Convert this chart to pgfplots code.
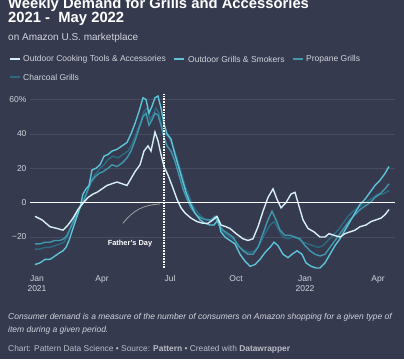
\documentclass[border=0pt]{standalone}
\usepackage{fontspec}
\setmainfont{Liberation Sans}
\usepackage{pgfplots}
\pgfplotsset{compat=1.18}
\definecolor{bg}{HTML}{363A4F}
\definecolor{cwhite}{HTML}{D6EEF5}
\definecolor{ccyan}{HTML}{5CC3D8}
\definecolor{cmid}{HTML}{3F98AE}
\definecolor{cdark}{HTML}{2C6A82}
\definecolor{gridc}{HTML}{474C60}
\definecolor{txt}{HTML}{D0D3DB}
\begin{document}
\begin{tikzpicture}[x=1pt,y=1pt]
\fill[bg] (0,0) rectangle (404,359);
\useasboundingbox (0,0) rectangle (404,359);
% title
\node[anchor=north west, inner sep=0, align=left, text=white, font=\bfseries\fontsize{14.8}{13.5}\selectfont] at (8,361) {Weekly Demand for Grills and Accessories\\2021 -\ \ May 2022};
\node[anchor=west, inner sep=0, text=txt, font=\fontsize{10}{11}\selectfont] at (8,321) {on Amazon U.S. marketplace};
% legend
\begin{scope}[font=\fontsize{8.5}{9}\selectfont, text=txt]
\draw[cwhite, line width=2] (10,300) -- (20,300);
\node[anchor=west, inner sep=0, text=txt] at (23,300) {Outdoor Cooking Tools \& Accessories};
\draw[ccyan, line width=2] (174,300) -- (184,300);
\node[anchor=west, inner sep=0, text=txt] at (188,300) {Outdoor Grills \& Smokers};
\draw[cmid, line width=2] (293,300) -- (303,300);
\node[anchor=west, inner sep=0, text=txt] at (306,300) {Propane Grills};
\draw[cdark, line width=2] (10,282) -- (20,282);
\node[anchor=west, inner sep=0, text=txt] at (23,282) {Charcoal Grills};
\end{scope}
\begin{axis}[
  at={(30pt,91pt)}, anchor=south west,
  scale only axis, width=365pt, height=173.7pt,
  xmin=30, xmax=395, ymin=-38, ymax=63,
  axis line style={draw=none},
  major tick length=0pt,
  ytick={-20,0,20,40,60},
  yticklabels={−20,0,20,40,60\%},
  xtick={37,102,170,236,305,378},
  xticklabels={Jan\\2021,Apr,Jul,Oct,Jan\\2022,Apr},
  xticklabel style={align=center, font=\fontsize{8.5}{10}\selectfont, text=txt, yshift=-4pt},
  yticklabel style={font=\fontsize{8.5}{9}\selectfont, text=txt},
  /pgf/number format/assume math mode=true,
  ymajorgrids, grid style={gridc, line width=0.6},
  clip=false,
]
\addplot[cdark, line width=1.4] coordinates {
(35,-27)(40,-27)(45,-26)(50,-26)(55,-25)(60,-24)(64,-23)(68,-19)(72,-12)(76,-6)(80,-2)(84,2)(88,8)(92,14)(96,17)(100,20)(104,22)(108,25)(113,27)(118,26)(123,28)(128,30)(132,34)(136,40)(140,46)(144,53)(147,55)(150,48)(153,51)(156,55)(159,52)(162,44)(165,40)(169,38)(173,33)(177,26)(181,18)(185,10)(189,4)(193,-2)(198,-6)(203,-9)(208,-10)(212,-10)(216,-8)(220,-14)(225,-18)(230,-20)(235,-22)(240,-26)(245,-28)(250,-29)(255,-28)(260,-24)(265,-18)(270,-13)(274,-11)(278,-15)(283,-20)(288,-21)(293,-20)(298,-21)(303,-23)(308,-24)(313,-25)(318,-26)(323,-25)(328,-22)(333,-19)(338,-16)(343,-12)(348,-8)(353,-5)(358,-3)(363,-1)(368,1)(373,3)(378,5)(383,5)(389,7)
};
\addplot[cmid, line width=1.4] coordinates {
(35,-24)(40,-24)(45,-23)(50,-23)(55,-22)(60,-22)(64,-21)(67,-19)(71,-14)(75,-9)(79,-4)(83,0)(87,6)(91,12)(95,15)(99,17)(103,18)(108,20)(112,22)(117,21)(122,23)(127,26)(131,30)(135,36)(139,43)(143,50)(146,52)(149,45)(152,48)(155,52)(158,51)(161,45)(164,38)(167,33)(171,30)(175,24)(179,16)(183,8)(187,2)(191,-3)(196,-7)(201,-9)(206,-10)(211,-10)(215,-8)(219,-13)(223,-16)(228,-18)(233,-20)(238,-25)(243,-28)(248,-30)(253,-30)(258,-26)(263,-18)(268,-10)(272,-5)(276,-10)(280,-16)(285,-19)(290,-19)(295,-20)(300,-21)(305,-25)(310,-28)(315,-30)(320,-31)(325,-30)(330,-26)(335,-22)(340,-18)(345,-14)(350,-10)(355,-7)(360,-4)(365,-2)(370,0)(375,3)(380,5)(385,8)(389,11)
};
\addplot[ccyan, line width=1.4] coordinates {
(35,-36)(40,-35)(45,-33)(50,-33)(55,-31)(60,-29)(63,-28)(66,-26)(69,-22)(73,-15)(77,-8)(80,-3)(83,5)(86,8)(89,10)(92,19)(96,20)(100,22)(104,27)(108,28)(112,30)(117,31)(122,33)(127,35)(131,40)(135,46)(139,53)(143,61)(146,60)(149,52)(152,56)(155,61)(158,62)(161,55)(164,46)(167,40)(171,37)(174,30)(178,22)(182,14)(186,6)(190,0)(195,-6)(200,-10)(205,-12)(210,-13)(214,-13)(218,-10)(221,-17)(225,-20)(230,-22)(235,-24)(240,-30)(245,-34)(250,-37)(255,-36)(260,-33)(265,-29)(270,-26)(274,-23)(278,-25)(283,-30)(288,-32)(292,-30)(297,-28)(302,-30)(306,-35)(311,-37)(316,-38)(320,-38)(325,-35)(330,-30)(335,-25)(340,-21)(345,-16)(350,-11)(355,-6)(360,-1)(365,2)(370,6)(375,10)(380,13)(385,17)(389,21)
};
\addplot[cwhite, line width=1.4] coordinates {
(35,-8)(42,-10)(50,-14)(57,-15)(63,-16)(68,-13)(73,-9)(78,-4)(82,-1)(88,3)(93,5)(97,6)(102,8)(107,10)(112,11)(117,12)(122,11)(127,10)(130,13)(135,18)(140,22)(144,30)(148,33)(151,30)(155,41)(158,36)(161,28)(164,21)(168,16)(172,10)(177,2)(181,-3)(185,-6)(191,-9)(197,-11)(203,-12)(208,-12)(213,-10)(217,-8)(221,-13)(226,-14)(230,-15)(236,-18)(243,-21)(248,-22)(253,-21)(258,-14)(263,-5)(268,3)(273,8)(277,2)(281,-3)(286,0)(291,5)(295,6)(299,-2)(303,-10)(308,-15)(314,-17)(320,-20)(325,-20)(329,-18)(334,-19)(340,-20)(345,-18)(350,-17)(355,-16)(360,-14)(366,-13)(371,-11)(376,-10)(381,-9)(385,-7)(389,-4)
};
\draw[white, line width=1.2] (axis cs:30,0) -- (axis cs:395,0);
\draw[white, line width=1.6, dash pattern=on 0.8pt off 0.8pt] (axis cs:164,-38) -- (axis cs:164,63);
\draw[gray!75, line width=0.8] (axis cs:123,-12) to[bend left=25] (axis cs:160,-0.8);
\node[text=white, font=\bfseries\fontsize{7.4}{8}\selectfont] at (axis cs:130,-24) {Father's Day};
\end{axis}
% footer
\node[anchor=west, inner sep=0, text=txt, font=\itshape\fontsize{8.5}{9}\selectfont] at (8,42) {Consumer demand is a measure of the number of consumers on Amazon shopping for a given type of};
\node[anchor=west, inner sep=0, text=txt, font=\itshape\fontsize{8.5}{9}\selectfont] at (8,29) {item during a given period.};
\node[anchor=west, inner sep=0, text=txt!85!bg, font=\fontsize{8.4}{9}\selectfont] at (8,10) {Chart: Pattern Data Science • Source: \textbf{Pattern} • Created with \textbf{Datawrapper}};
\end{tikzpicture}
\end{document}
